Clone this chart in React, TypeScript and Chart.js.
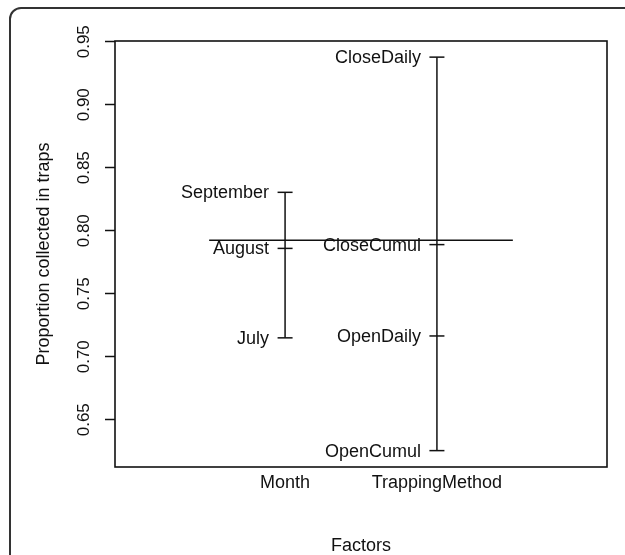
import React, { useEffect, useRef } from 'react';
import { Chart, registerables } from 'chart.js';

Chart.register(...registerables);

// ---- data ----
const factorNames = ['Month', 'TrappingMethod'];
const monthLevels = ['July', 'August', 'September'];
const monthMeans = [0.715, 0.786, 0.8305];
const methodLevels = ['OpenCumul', 'OpenDaily', 'CloseCumul', 'CloseDaily'];
const methodMeans = [0.6255, 0.7165, 0.789, 0.9378];
const grandMean = 0.7925;
const yTickValues = [0.65, 0.7, 0.75, 0.8, 0.85, 0.9, 0.95];
const yMin = 0.6125;
const yMax = 0.9506;
const xMin = -0.12;
const xMax = 3.12;
const yTitle = 'Proportion collected in traps';
const xTitle = 'Factors';

const factors = [
  { levels: monthLevels, means: monthMeans },
  { levels: methodLevels, means: methodMeans },
];

const INK = '#111111';
const FONT = "'Liberation Sans', Arial, Helvetica, sans-serif";

const framePlugin = {
  id: 'frame',
  beforeDraw(chart: any) {
    const { ctx, width, height } = chart;
    ctx.save();
    ctx.fillStyle = '#ffffff';
    ctx.fillRect(0, 0, width, height);
    ctx.strokeStyle = '#333333';
    ctx.lineWidth = 2;
    const x0 = 10;
    const y0 = 8;
    const r = 11;
    ctx.beginPath();
    ctx.moveTo(x0, height + 10);
    ctx.lineTo(x0, y0 + r);
    ctx.arcTo(x0, y0, x0 + r, y0, r);
    ctx.lineTo(width + 10, y0);
    ctx.stroke();
    ctx.restore();
  },
  afterDraw(chart: any) {
    const { ctx, chartArea } = chart;
    ctx.save();
    ctx.strokeStyle = INK;
    ctx.lineWidth = 1.6;
    ctx.strokeRect(chartArea.left, chartArea.top, chartArea.right - chartArea.left, chartArea.bottom - chartArea.top);
    ctx.restore();
  },
};

const levelLabelPlugin = {
  id: 'levelLabels',
  afterDatasetsDraw(chart: any) {
    const { ctx } = chart;
    const xs = chart.scales.x;
    const ys = chart.scales.y;
    ctx.save();
    ctx.fillStyle = INK;
    ctx.font = `18px ${FONT}`;
    ctx.textAlign = 'right';
    ctx.textBaseline = 'middle';
    factors.forEach((f, i) => {
      const px = xs.getPixelForValue(i + 1);
      f.levels.forEach((name, j) => {
        ctx.fillText(name, px - 16, ys.getPixelForValue(f.means[j]) + 1);
      });
    });
    ctx.restore();
  },
};

export default function App() {
  const ref = useRef<HTMLCanvasElement | null>(null);

  useEffect(() => {
    if (!ref.current) return;
    const factorDatasets = factors.map((f, i) => {
      const sorted = [...f.means].sort((a, b) => a - b);
      return {
        data: sorted.map((v) => ({ x: i + 1, y: v })),
        showLine: true,
        borderColor: INK,
        borderWidth: 1.5,
        pointStyle: 'line',
        pointRadius: 7.5,
        pointBorderWidth: 1.5,
        pointBorderColor: INK,
        pointBackgroundColor: INK,
      };
    });
    const chart = new Chart(ref.current, {
      type: 'scatter',
      data: {
        datasets: [
          ...factorDatasets,
          {
            data: [
              { x: 0.5, y: grandMean },
              { x: 2.5, y: grandMean },
            ],
            showLine: true,
            borderColor: INK,
            borderWidth: 1.5,
            pointRadius: 0,
          },
        ] as any,
      },
      options: {
        animation: false,
        responsive: true,
        maintainAspectRatio: false,
        layout: { padding: { top: 41, right: 18, left: 0, bottom: 0 } },
        plugins: {
          legend: { display: false },
          tooltip: { enabled: false },
        },
        scales: {
          x: {
            type: 'linear',
            min: xMin,
            max: xMax,
            grid: { display: false, drawTicks: false },
            border: { display: false },
            afterBuildTicks: (scale: any) => {
              scale.ticks = factorNames.map((_, i) => ({ value: i + 1 }));
            },
            afterFit: (scale: any) => {
              scale.height = 88;
            },
            ticks: {
              color: INK,
              font: { family: FONT, size: 18 },
              padding: 5,
              maxRotation: 0,
              autoSkip: false,
              callback: (v: any) => factorNames[Math.round(Number(v)) - 1] ?? '',
            },
            title: {
              display: true,
              text: xTitle,
              color: INK,
              font: { family: FONT, size: 18 },
              padding: { top: 0, bottom: -2 },
            },
          },
          y: {
            type: 'linear',
            min: yMin,
            max: yMax,
            grid: {
              display: true,
              drawOnChartArea: false,
              drawTicks: true,
              tickLength: 10,
              tickWidth: 1.5,
              tickColor: INK,
            },
            border: { display: false },
            afterBuildTicks: (scale: any) => {
              scale.ticks = yTickValues.map((v) => ({ value: v }));
            },
            afterFit: (scale: any) => {
              scale.width = 115;
            },
            ticks: {
              color: INK,
              font: { family: FONT, size: 17 },
              minRotation: 90,
              maxRotation: 90,
              crossAlign: 'center',
              padding: 4,
              autoSkip: false,
              callback: (v: any) => Number(v).toFixed(2),
            },
            title: {
              display: true,
              text: yTitle,
              color: INK,
              font: { family: FONT, size: 18 },
              padding: { top: 33, bottom: 0 },
            },
          },
        },
      },
      plugins: [framePlugin, levelLabelPlugin],
    } as any);
    return () => chart.destroy();
  }, []);

  return (
    <div style={{ position: 'fixed', left: 0, top: 0, width: 625, height: 555 }}>
      <canvas ref={ref} style={{ display: 'block' }} />
    </div>
  );
}
